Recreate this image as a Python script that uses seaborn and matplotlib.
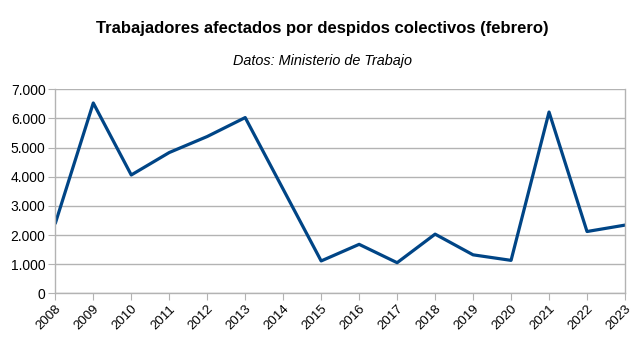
import matplotlib
matplotlib.use("Agg")
import matplotlib.pyplot as plt
import seaborn as sns
import pandas as pd
from matplotlib.ticker import FuncFormatter, MultipleLocator

years = [2008, 2009, 2010, 2011, 2012, 2013, 2014, 2015, 2016, 2017, 2018, 2019, 2020, 2021, 2022, 2023]
workers = [2400, 6530, 4060, 4830, 5380, 6030, 3570, 1110, 1680, 1050, 2030, 1320, 1130, 6220, 2120, 2340]
title = "Trabajadores afectados por despidos colectivos (febrero)"
subtitle = "Datos: Ministerio de Trabajo"

sns.set_style("white")
plt.rcParams['font.family'] = ['Liberation Sans', 'DejaVu Sans']
plt.rcParams['text.color'] = 'black'

df = pd.DataFrame({"year": years, "workers": workers})

fig = plt.figure(figsize=(6.43, 3.40), dpi=100)
ax = fig.add_axes([55.3 / 643, (340 - 293.3) / 340, (625 - 55.3) / 643, (293.3 - 89.3) / 340])

sns.lineplot(data=df, x="year", y="workers", ax=ax, color="#004586", linewidth=2.3)

ax.set_xlim(years[0], years[-1])
ax.set_ylim(0, 7000)
ax.yaxis.set_major_locator(MultipleLocator(1000))
ax.yaxis.set_major_formatter(FuncFormatter(lambda v, p: f"{int(v):,}".replace(",", ".")))
ax.set_xticks(years)
ax.set_xticklabels([str(y) for y in years], rotation=45, ha="right", rotation_mode="anchor")
ax.grid(axis="y", color="#b3b3b3", linewidth=1)
ax.set_axisbelow(True)
ax.set_xlabel("")
ax.set_ylabel("")
for s in ["left", "bottom", "right"]:
    ax.spines[s].set_color("#b3b3b3")
    ax.spines[s].set_linewidth(1)
ax.spines["top"].set_visible(False)
ax.tick_params(axis="x", length=5, color="#b3b3b3", labelsize=9.5, pad=2, labelcolor="black", bottom=True)
ax.tick_params(axis="y", length=5, color="#b3b3b3", labelsize=10, pad=2, labelcolor="black", left=True)

fig.text(322 / 643, 1 - 28 / 340, title, ha="center", va="center", fontsize=12, fontweight="bold", color="black")
fig.text(322 / 643, 1 - 61 / 340, subtitle, ha="center", va="center", fontsize=10.4, style="italic", color="black")

fig.savefig("out.png", dpi=100, facecolor="white")
